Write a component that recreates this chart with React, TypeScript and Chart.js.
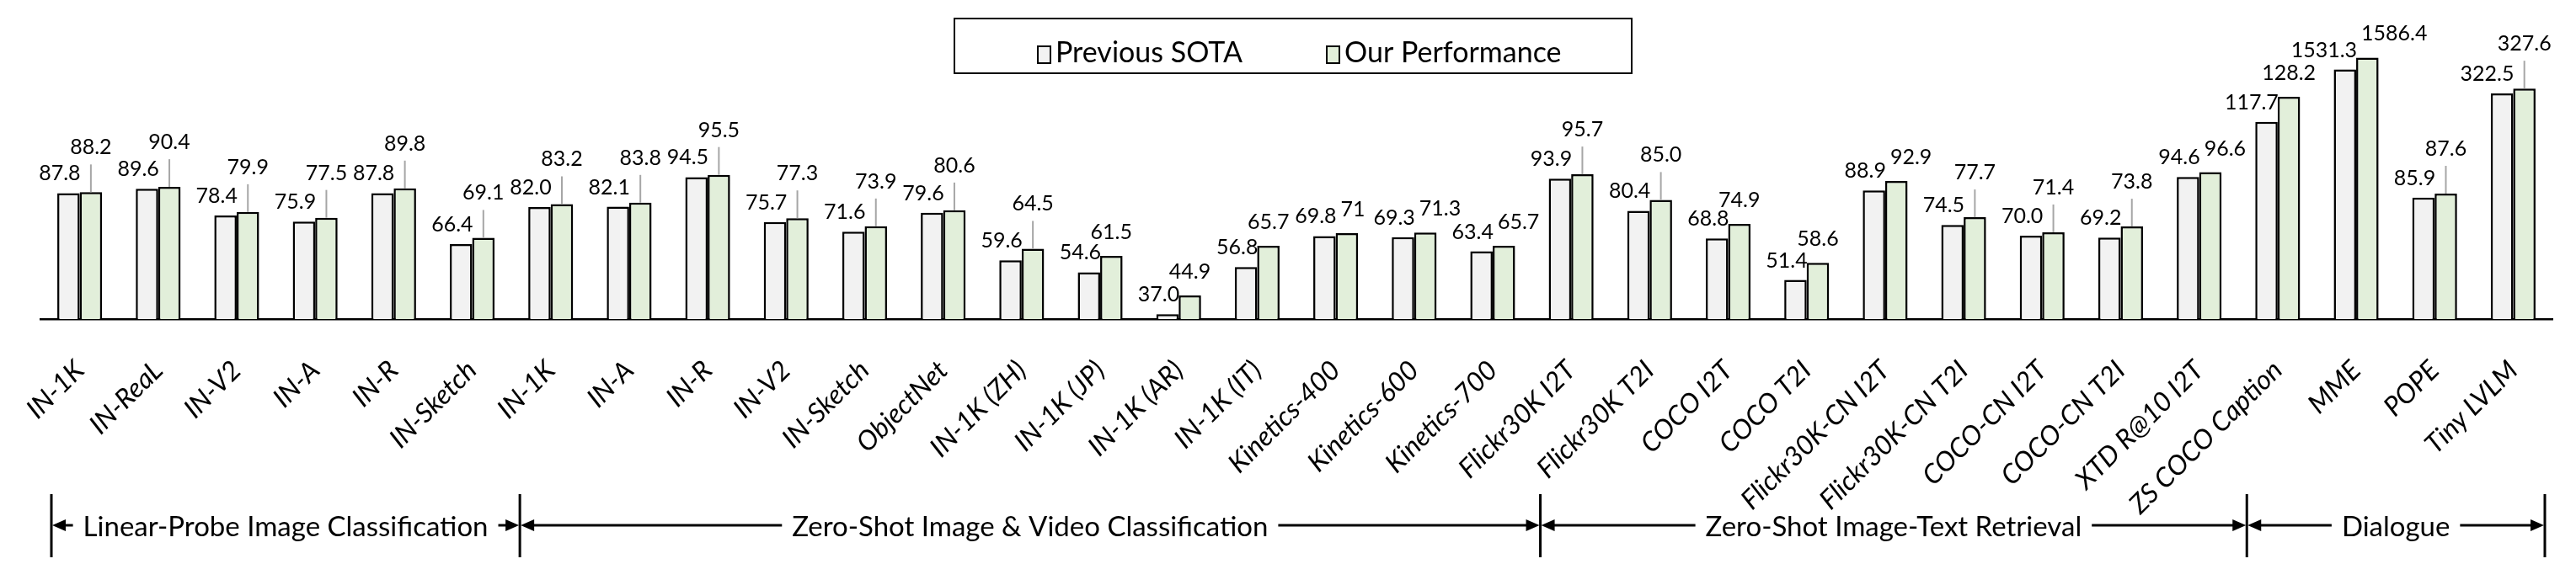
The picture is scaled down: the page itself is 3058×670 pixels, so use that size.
import React, { useEffect, useRef } from 'react';
import { Chart, registerables } from 'chart.js';

Chart.register(...registerables);

const categories = [
  'IN-1K', 'IN-ReaL', 'IN-V2', 'IN-A', 'IN-R', 'IN-Sketch',
  'IN-1K', 'IN-A', 'IN-R', 'IN-V2', 'IN-Sketch', 'ObjectNet',
  'IN-1K (ZH)', 'IN-1K (JP)', 'IN-1K (AR)', 'IN-1K (IT)',
  'Kinetics-400', 'Kinetics-600', 'Kinetics-700',
  'Flickr30K I2T', 'Flickr30K T2I', 'COCO I2T', 'COCO T2I',
  'Flickr30K-CN I2T', 'Flickr30K-CN T2I', 'COCO-CN I2T', 'COCO-CN T2I', 'XTD R@10 I2T',
  'ZS COCO Caption', 'MME', 'POPE', 'Tiny LVLM',
];

const previousSota = [
  87.8, 89.6, 78.4, 75.9, 87.8, 66.4,
  82.0, 82.1, 94.5, 75.7, 71.6, 79.6,
  59.6, 54.6, 37.0, 56.8,
  69.8, 69.3, 63.4,
  93.9, 80.4, 68.8, 51.4,
  88.9, 74.5, 70.0, 69.2, 94.6,
  117.7, 1531.3, 85.9, 322.5,
];

const ourPerformance = [
  88.2, 90.4, 79.9, 77.5, 89.8, 69.1,
  83.2, 83.8, 95.5, 77.3, 73.9, 80.6,
  64.5, 61.5, 44.9, 65.7,
  71, 71.3, 65.7,
  95.7, 85.0, 74.9, 58.6,
  92.9, 77.7, 71.4, 73.8, 96.6,
  128.2, 1586.4, 87.6, 327.6,
];

const previousLabels = [
  '87.8', '89.6', '78.4', '75.9', '87.8', '66.4',
  '82.0', '82.1', '94.5', '75.7', '71.6', '79.6',
  '59.6', '54.6', '37.0', '56.8',
  '69.8', '69.3', '63.4',
  '93.9', '80.4', '68.8', '51.4',
  '88.9', '74.5', '70.0', '69.2', '94.6',
  '117.7', '1531.3', '85.9', '322.5',
];

const ourLabels = [
  '88.2', '90.4', '79.9', '77.5', '89.8', '69.1',
  '83.2', '83.8', '95.5', '77.3', '73.9', '80.6',
  '64.5', '61.5', '44.9', '65.7',
  '71', '71.3', '65.7',
  '95.7', '85.0', '74.9', '58.6',
  '92.9', '77.7', '71.4', '73.8', '96.6',
  '128.2', '1586.4', '87.6', '327.6',
];

// bars of the two large-scale benchmarks are drawn compressed in the original figure
const barScale = [
  1, 1, 1, 1, 1, 1,
  1, 1, 1, 1, 1, 1,
  1, 1, 1, 1,
  1, 1, 1,
  1, 1, 1, 1,
  1, 1, 1, 1, 1,
  1, 0.0912, 1, 0.402,
];

// whether "Our Performance" label is lifted with a leader line
const leaderLine = [
  true, true, true, true, true, true,
  true, true, true, true, true, true,
  true, false, false, false,
  false, false, false,
  true, true, false, false,
  false, true, true, true, false,
  false, false, true, true,
];

const sectionNames = [
  'Linear-Probe Image Classification',
  'Zero-Shot Image & Video Classification',
  'Zero-Shot Image-Text Retrieval',
  'Dialogue',
];
const sectionStarts = [0, 6, 19, 28];

const seriesNames = ['Previous SOTA', 'Our Performance'];
const seriesFill = ['#f2f2f2', '#e2efda'];

const FONT = 'Lato, "Open Sans", sans-serif';
const NUM_SIZE = 25;
const TICK_SIZE = 32;
const SECTION_SIZE = 33;
const LEGEND_SIZE = 34;

const valueLabelPlugin = {
  id: 'valueLabels',
  beforeDatasetsDraw(chart: any) {
    const ctx = chart.ctx;
    ctx.save();
    ctx.shadowColor = 'rgba(0,0,0,0.28)';
    ctx.shadowBlur = 7;
    ctx.shadowOffsetX = 1;
    ctx.shadowOffsetY = 1;
  },
  afterDatasetsDraw(chart: any) {
    const ctx = chart.ctx;
    ctx.restore();
    const m0 = chart.getDatasetMeta(0);
    const m1 = chart.getDatasetMeta(1);
    ctx.save();
    ctx.font = `${NUM_SIZE}px ${FONT}`;
    ctx.fillStyle = '#000';
    ctx.textBaseline = 'alphabetic';
    for (let i = 0; i < categories.length; i++) {
      const g = m0.data[i];
      const o = m1.data[i];
      const gRight = g.x + g.width / 2;
      const gy = g.y - 15;
      ctx.textAlign = 'right';
      ctx.fillText(previousLabels[i], gRight + 1, gy);
      const lifted = leaderLine[i];
      const oy = o.y - (lifted ? 45 : 20);
      const w = ctx.measureText(ourLabels[i]).width;
      let left = o.x - w / 2;
      if (!lifted && left < gRight + 4 && Math.abs(oy - gy) < 20) left = gRight + 6;
      ctx.textAlign = 'left';
      ctx.fillText(ourLabels[i], left, oy);
      if (lifted) {
        ctx.beginPath();
        ctx.strokeStyle = '#a6a6a6';
        ctx.lineWidth = 2;
        ctx.moveTo(o.x, o.y);
        ctx.lineTo(o.x, oy + 12);
        ctx.stroke();
      }
    }
    ctx.restore();
  },
};

const annotationPlugin = {
  id: 'sectionsAndLegend',
  afterDraw(chart: any) {
    const ctx = chart.ctx;
    const xs = chart.scales.x;
    const step = xs.getPixelForValue(1) - xs.getPixelForValue(0);
    const edge = (i: number) => xs.getPixelForValue(i) - step / 2;
    const bounds = sectionStarts.map((s, k) => edge(s) + (k === 0 ? 13 : 10));
    bounds.push(edge(categories.length) - 9);

    ctx.save();
    ctx.strokeStyle = '#000';
    ctx.fillStyle = '#000';
    ctx.lineWidth = 3;
    bounds.forEach((b) => {
      ctx.beginPath();
      ctx.moveTo(b, 587);
      ctx.lineTo(b, 662);
      ctx.stroke();
    });
    const yMid = 624;
    ctx.font = `${SECTION_SIZE}px ${FONT}`;
    ctx.textAlign = 'center';
    ctx.textBaseline = 'middle';
    const arrow = (tipX: number, dir: number) => {
      ctx.beginPath();
      ctx.moveTo(tipX, yMid);
      ctx.lineTo(tipX - dir * 16, yMid - 7);
      ctx.lineTo(tipX - dir * 16, yMid + 7);
      ctx.closePath();
      ctx.fill();
    };
    sectionNames.forEach((name, k) => {
      const x0 = bounds[k];
      const x1 = bounds[k + 1];
      const cx = (x0 + x1) / 2;
      const w = ctx.measureText(name).width;
      ctx.fillText(name, cx, yMid + 2);
      ctx.lineWidth = 3;
      ctx.beginPath();
      ctx.moveTo(x0 + 8, yMid);
      ctx.lineTo(cx - w / 2 - 12, yMid);
      ctx.moveTo(cx + w / 2 + 12, yMid);
      ctx.lineTo(x1 - 8, yMid);
      ctx.stroke();
      arrow(x0 + 1, -1);
      arrow(x1 - 1, 1);
    });

    // legend
    ctx.font = `${LEGEND_SIZE}px ${FONT}`;
    ctx.lineWidth = 2;
    ctx.strokeRect(1133, 22, 804, 65);
    ctx.textAlign = 'left';
    ctx.textBaseline = 'alphabetic';
    let x = 1232;
    seriesNames.forEach((name, k) => {
      ctx.fillStyle = seriesFill[k];
      ctx.fillRect(x, 55, 15, 20);
      ctx.lineWidth = 2;
      ctx.strokeRect(x, 55, 15, 20);
      ctx.fillStyle = '#000';
      ctx.fillText(name, x + 21, 74);
      x += 21 + ctx.measureText(name).width + 100;
    });
    ctx.restore();
  },
};

export default function App() {
  const canvasRef = useRef<HTMLCanvasElement | null>(null);

  useEffect(() => {
    let chart: Chart | null = null;
    let cancelled = false;
    const build = () => {
      if (cancelled || !canvasRef.current) return;
      chart = new Chart(canvasRef.current, {
        type: 'bar',
        data: {
          labels: categories,
          datasets: [
            {
              label: seriesNames[0],
              data: previousSota.map((v, i) => v * barScale[i]),
              backgroundColor: seriesFill[0],
              borderColor: '#000',
              borderWidth: 2.5,
              borderSkipped: false,
              categoryPercentage: 0.57,
              barPercentage: 1,
            },
            {
              label: seriesNames[1],
              data: ourPerformance.map((v, i) => v * barScale[i]),
              backgroundColor: seriesFill[1],
              borderColor: '#000',
              borderWidth: 2.5,
              borderSkipped: false,
              categoryPercentage: 0.57,
              barPercentage: 1,
            },
          ],
        },
        options: {
          responsive: false,
          animation: false,
          events: [],
          layout: { padding: { left: 48, right: 28, top: 25, bottom: 0 } },
          plugins: {
            legend: { display: false },
            tooltip: { enabled: false },
          },
          scales: {
            x: {
              grid: { display: false },
              border: { display: true, color: '#000', width: 2.5 },
              ticks: {
                autoSkip: false,
                maxRotation: 45,
                minRotation: 45,
                color: '#000',
                padding: 34,
                font: { family: FONT, size: TICK_SIZE, style: 'italic' },
              },
              afterFit: (scale: any) => {
                scale.height = 291;
              },
            },
            y: {
              display: false,
              min: 35,
              max: 160,
            },
          },
        },
        plugins: [valueLabelPlugin, annotationPlugin],
      } as any);
    };
    const fontsReady = (document as any).fonts
      ? Promise.all([
          (document as any).fonts.load(`${LEGEND_SIZE}px Lato`),
          (document as any).fonts.load(`italic ${TICK_SIZE}px Lato`),
        ]).catch(() => null)
      : Promise.resolve(null);
    fontsReady.then(build);
    return () => {
      cancelled = true;
      if (chart) chart.destroy();
    };
  }, []);

  return (
    <div style={{ position: 'fixed', left: 0, top: 0, width: 3058, height: 670, background: '#fff' }}>
      <canvas ref={canvasRef} width={3058} height={670} style={{ display: 'block' }} />
    </div>
  );
}
